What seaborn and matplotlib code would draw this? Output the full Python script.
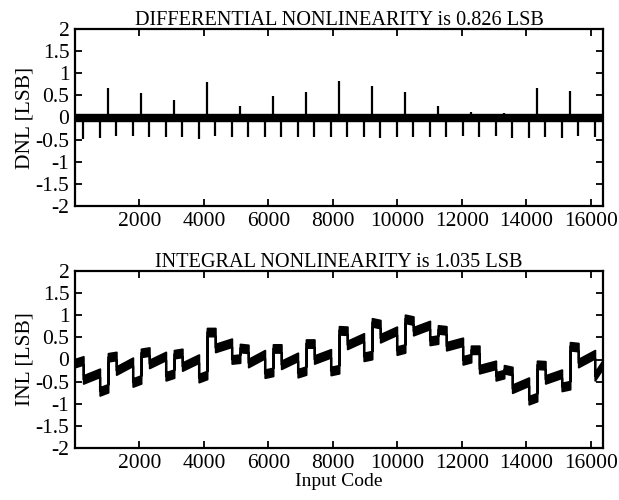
import numpy as np
import pandas as pd
import matplotlib
matplotlib.use("Agg")
import matplotlib.pyplot as plt
import seaborn as sns

# ---------------- data ----------------
code_min, code_max = 0, 16383

# DNL: negative spikes every 512 codes (offset 256)
dnl_neg_codes = [256, 768, 1280, 1792, 2304, 2816, 3328, 3840,
                 4352, 4864, 5376, 5888, 6400, 6912, 7424, 7936,
                 8448, 8960, 9472, 9984, 10496, 11008, 11520, 12032,
                 12544, 13056, 13568, 14080, 14592, 15104, 15616, 16128]
dnl_neg_vals = [-0.48, -0.47, -0.41, -0.42, -0.45, -0.45, -0.45, -0.48,
                -0.42, -0.45, -0.45, -0.44, -0.44, -0.45, -0.45, -0.45,
                -0.45, -0.45, -0.47, -0.45, -0.44, -0.45, -0.45, -0.42,
                -0.44, -0.41, -0.47, -0.47, -0.45, -0.47, -0.41, -0.445]
# DNL: positive spikes every 1024 codes
dnl_pos_codes = [1024, 2048, 3072, 4096, 5120, 6144, 7168, 8192,
                 9216, 10240, 11264, 12288, 13312, 14336, 15360]
dnl_pos_vals = [0.66, 0.55, 0.40, 0.81, 0.26, 0.48, 0.58, 0.826,
                0.72, 0.57, 0.26, 0.12, 0.10, 0.66, 0.61]
dnl_noise_amp = 0.08

# INL: staircase read at each step (value just before / just after)
inl_start, inl_end = -0.08, -0.10
inl_step_codes = [256, 768, 1024, 1280, 1792, 2048, 2304, 2816, 3072, 3328,
                  3840, 4096, 4352, 4864, 5120, 5376, 5888, 6144, 6400, 6912,
                  7168, 7424, 7936, 8192, 8448, 8960, 9216, 9472, 9984, 10240,
                  10496, 11008, 11264, 11520, 12032, 12288, 12544, 13056, 13312,
                  13568, 14080, 14336, 14592, 15104, 15360, 15616, 16128]
inl_before = [-0.02, -0.30, -0.65, 0.08, -0.05, -0.45, 0.18, 0.08, -0.32, 0.15,
              0.02, -0.35, 0.62, 0.38, 0.02, 0.24, 0.12, -0.28, 0.25, 0.06,
              -0.25, 0.36, 0.14, -0.22, 0.65, 0.50, 0.10, 0.80, 0.65, 0.25,
              0.88, 0.78, 0.45, 0.66, 0.40, 0.03, 0.22, -0.12, -0.33,
              -0.26, -0.50, -0.85, -0.13, -0.32, -0.58, 0.28, 0.12]
inl_after = [-0.45, -0.72, 0.05, -0.25, -0.52, 0.15, -0.10, -0.38, 0.12, -0.16,
             -0.42, 0.62, 0.26, 0.00, 0.26, -0.08, -0.32, 0.25, -0.12, -0.31,
             0.36, 0.00, -0.26, 0.66, 0.33, 0.06, 0.84, 0.48, 0.20, 0.92,
             0.64, 0.42, 0.68, 0.30, -0.02, 0.22, -0.22, -0.38, -0.22,
             -0.66, -0.92, -0.12, -0.45, -0.62, 0.30, -0.08, -0.38]
inl_noise_amp = 0.09

x_ticks = [2000, 4000, 6000, 8000, 10000, 12000, 14000, 16000]
y_ticks = [-2, -1.5, -1, -0.5, 0, 0.5, 1, 1.5, 2]
y_tick_labels = ["-2", "-1.5", "-1", "-0.5", "0", "0.5", "1", "1.5", "2"]
dnl_title = "DIFFERENTIAL NONLINEARITY is 0.826 LSB"
inl_title = "INTEGRAL NONLINEARITY is 1.035 LSB"

# ---------------- build tables ----------------
inl_x = [code_min]
inl_y = [inl_start]
for c, b, a in zip(inl_step_codes, inl_before, inl_after):
    inl_x += [c, c]
    inl_y += [b, a]
inl_x.append(code_max)
inl_y.append(inl_end)
inl_df = pd.DataFrame({"code": inl_x, "inl": inl_y})
dnl_df = pd.DataFrame({"code": [code_min, code_max], "dnl": [0.0, 0.0]})

# ---------------- style ----------------
sns.set_style("ticks")
plt.rcParams["font.family"] = ["Liberation Serif", "DejaVu Serif"]
plt.rcParams["axes.unicode_minus"] = False
plt.rcParams["text.color"] = "black"
plt.rcParams["axes.labelcolor"] = "black"

fig = plt.figure(figsize=(6.19, 5.0), dpi=100)
ax1 = fig.add_axes([0.1212, 0.588, 0.853, 0.354])
ax2 = fig.add_axes([0.1212, 0.104, 0.853, 0.354])

tick_fs = 15.5
title_fs = 14.6
label_fs = 15.5

def style_axes(ax, ylabel, title):
    ax.set_xlim(code_min, code_max)
    ax.set_ylim(-2, 2)
    ax.set_xticks(x_ticks)
    ax.set_xticklabels([str(t) for t in x_ticks])
    ax.set_yticks(y_ticks)
    ax.set_yticklabels(y_tick_labels)
    ax.tick_params(direction="in", length=5, width=1.3, top=True, right=True,
                   labelsize=tick_fs, pad=4, color="black", labelcolor="black")
    for s in ax.spines.values():
        s.set_linewidth(1.6)
        s.set_color("black")
        s.set_visible(True)
    ax.set_ylabel(ylabel, fontsize=label_fs, labelpad=1, color="black")
    ax.set_title(title, fontsize=title_fs, pad=3, color="black")

# DNL
d_codes = np.array([code_min, code_max])
ax1.fill_between(d_codes, -dnl_noise_amp, dnl_noise_amp, color="black",
                 linewidth=1.0, edgecolor="black", zorder=2)
sns.lineplot(data=dnl_df, x="code", y="dnl", ax=ax1, color="black", lw=1, zorder=2)
ax1.vlines(dnl_neg_codes, 0, dnl_neg_vals, color="black", lw=1.6, zorder=3)
ax1.vlines(dnl_pos_codes, 0, dnl_pos_vals, color="black", lw=1.6, zorder=3)
style_axes(ax1, "DNL [LSB]", dnl_title)
ax1.set_xlabel("")

# INL
ix = np.array(inl_x, dtype=float)
iy = np.array(inl_y, dtype=float)
ax2.fill_between(ix, iy - inl_noise_amp, iy + inl_noise_amp, color="black",
                 linewidth=1.4, edgecolor="black", zorder=2)
sns.lineplot(data=inl_df, x="code", y="inl", ax=ax2, color="black", lw=1.2,
             sort=False, estimator=None, zorder=3)
style_axes(ax2, "INL [LSB]", inl_title)
ax2.set_xlabel("Input Code", fontsize=14, labelpad=0, color="black")

fig.savefig("out.png", dpi=100)
